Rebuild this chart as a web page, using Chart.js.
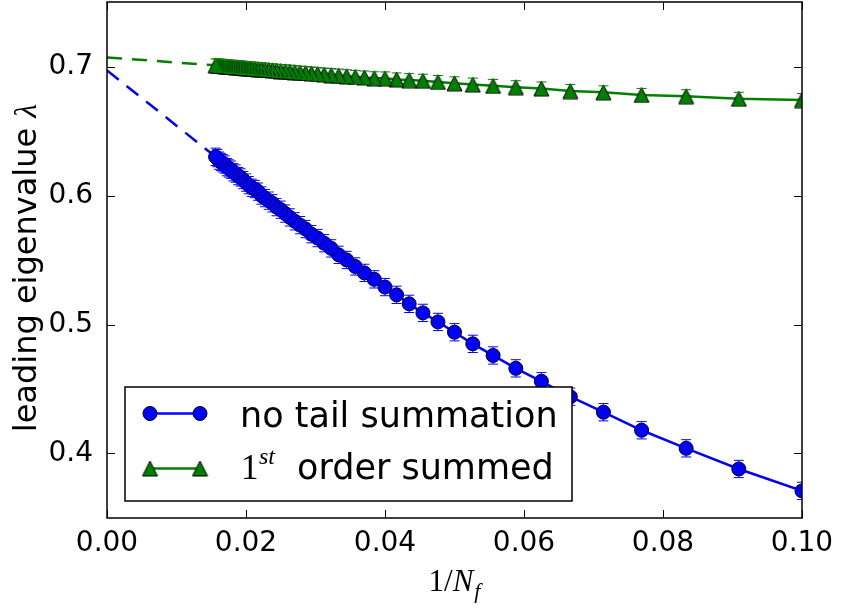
<!DOCTYPE html>
<html>
<head>
<meta charset="utf-8">
<script src="https://cdn.jsdelivr.net/npm/chart.js@4.4.1/dist/chart.umd.min.js"></script>
<style>
  html, body { margin: 0; padding: 0; background: #fff; }
  canvas { display: block; }
</style>
</head>
<body>
<canvas id="eig" width="842" height="608"></canvas>
<script>
// number of frequencies N_f; plotted against 1/N_f
const nFreq = [10, 11, 12, 13, 14, 15, 16, 17, 18, 19, 20, 21, 22, 23, 24, 25, 26, 27, 28, 29,
  30, 31, 32, 33, 34, 35, 36, 37, 38, 39, 40, 41, 42, 43, 44, 45, 46, 47, 48, 49,
  50, 51, 52, 53, 54, 55, 56, 57, 58, 59, 60, 61, 62, 63, 64];

// leading eigenvalue, no tail summation
const noTail = [0.371, 0.388, 0.404, 0.418, 0.432, 0.444, 0.456, 0.466, 0.476, 0.485,
  0.494, 0.502, 0.509, 0.516, 0.523, 0.529, 0.535, 0.540, 0.545, 0.550,
  0.554, 0.559, 0.563, 0.567, 0.570, 0.574, 0.577, 0.580, 0.583, 0.586,
  0.589, 0.591, 0.594, 0.596, 0.598, 0.600, 0.603, 0.605, 0.606, 0.608,
  0.610, 0.612, 0.614, 0.615, 0.617, 0.618, 0.620, 0.621, 0.622, 0.624,
  0.625, 0.626, 0.627, 0.629, 0.630];

// leading eigenvalue, 1st order tail summed
const firstOrder = [0.674, 0.675, 0.677, 0.678, 0.680, 0.681, 0.683, 0.684, 0.685, 0.686,
  0.687, 0.688, 0.689, 0.6895, 0.690, 0.6908, 0.6909, 0.6915, 0.6920, 0.6925,
  0.6930, 0.6934, 0.6938, 0.6942, 0.6946, 0.6950, 0.6953, 0.6956, 0.6960, 0.6963,
  0.6965, 0.6968, 0.6971, 0.6973, 0.6976, 0.6978, 0.6980, 0.6982, 0.6984, 0.6986,
  0.6988, 0.6990, 0.6992, 0.6994, 0.6995, 0.6997, 0.6998, 0.7000, 0.7001, 0.7003,
  0.7004, 0.7005, 0.7007, 0.7008, 0.7009];

const noTailErr = 0.0067;
const firstOrderErr = 0.005;

// linear extrapolations towards 1/N_f -> 0
const fitX = [0, 1 / 64];
const noTailFit = [0.697, 0.630];
const firstOrderFit = [0.707, 0.7009];

const xTicks = [0, 0.02, 0.04, 0.06, 0.08, 0.1];
const yTicks = [0.4, 0.5, 0.6, 0.7];

const BLUE = '#0000ff';
const GREEN = '#008000';
const SANS = '"DejaVu Sans", sans-serif';
const SERIF = '"Liberation Serif", "DejaVu Serif", serif';

const pts = (ys) => ys.map((v, i) => ({ x: 1 / nFreq[i], y: v }));
const fitPts = (ys) => ys.map((v, i) => ({ x: fitX[i], y: v }));

// matplotlib-style '^' marker, centred on its bounding box
function makeTriangle(size) {
  const c = document.createElement('canvas');
  c.width = size + 2;
  c.height = size + 2;
  const g = c.getContext('2d');
  g.beginPath();
  g.moveTo(c.width / 2, 1);
  g.lineTo(size + 1, size + 1);
  g.lineTo(1, size + 1);
  g.closePath();
  g.fillStyle = GREEN;
  g.fill();
  g.lineWidth = 1;
  g.strokeStyle = '#000';
  g.stroke();
  return c;
}
const tri = makeTriangle(15);

function errorBars(ctx, xs, ys, ys_, err, color) {
  ctx.strokeStyle = color;
  ctx.lineWidth = 1;
  ys_.forEach((v, i) => {
    const px = xs.getPixelForValue(1 / nFreq[i]);
    const hi = ys.getPixelForValue(v + err);
    const lo = ys.getPixelForValue(v - err);
    ctx.beginPath();
    ctx.moveTo(px, hi); ctx.lineTo(px, lo);
    ctx.moveTo(px - 5, hi); ctx.lineTo(px + 5, hi);
    ctx.moveTo(px - 5, lo); ctx.lineTo(px + 5, lo);
    ctx.stroke();
  });
}

function circle(ctx, x, y) {
  ctx.beginPath();
  ctx.arc(x, y, 7, 0, Math.PI * 2);
  ctx.fillStyle = BLUE;
  ctx.fill();
  ctx.lineWidth = 1;
  ctx.strokeStyle = '#000';
  ctx.stroke();
}

// keep the plot box exactly where the axes say, without label overhang padding
function fixY(s) {
  s.width = 107;
  s.paddingTop = 0;
  s.paddingBottom = 0;
}
function fixX(s) {
  s.height = 90;
  s.paddingLeft = 0;
  s.paddingRight = 0;
}

const decorations = {
  id: 'decorations',
  afterDatasetsDraw(chart) {
    const { ctx, chartArea: a, scales: { x, y } } = chart;
    ctx.save();
    ctx.beginPath();
    ctx.rect(a.left, a.top, a.right - a.left, a.bottom - a.top);
    ctx.clip();
    errorBars(ctx, x, y, noTail, noTailErr, BLUE);
    errorBars(ctx, x, y, firstOrder, firstOrderErr, GREEN);
    ctx.restore();
  },
  afterDraw(chart) {
    const { ctx, chartArea: a, scales: { x, y } } = chart;
    ctx.save();

    // inward ticks on all four sides
    ctx.strokeStyle = '#000';
    ctx.lineWidth = 1;
    ctx.beginPath();
    xTicks.forEach(t => {
      const px = Math.round(x.getPixelForValue(t)) + 0.5;
      ctx.moveTo(px, a.bottom); ctx.lineTo(px, a.bottom - 8);
      ctx.moveTo(px, a.top); ctx.lineTo(px, a.top + 8);
    });
    yTicks.forEach(t => {
      const py = Math.round(y.getPixelForValue(t)) + 0.5;
      ctx.moveTo(a.left, py); ctx.lineTo(a.left + 8, py);
      ctx.moveTo(a.right, py); ctx.lineTo(a.right - 8, py);
    });
    ctx.stroke();

    // axes frame
    ctx.lineWidth = 1.5;
    ctx.strokeRect(a.left, a.top, a.right - a.left, a.bottom - a.top);

    // x title: 1/N_f
    ctx.fillStyle = '#000';
    ctx.textBaseline = 'alphabetic';
    ctx.textAlign = 'left';
    const up = '31px ' + SERIF, it = 'italic 31px ' + SERIF, sub = 'italic 22px ' + SERIF;
    ctx.font = up; const w1 = ctx.measureText('1/').width;
    ctx.font = it; const w2 = ctx.measureText('N').width;
    ctx.font = sub; const w3 = ctx.measureText('f').width;
    let tx = (a.left + a.right) / 2 - (w1 + w2 + w3 + 1) / 2;
    const ty = 591;
    ctx.font = up; ctx.fillText('1/', tx, ty); tx += w1;
    ctx.font = it; ctx.fillText('N', tx, ty); tx += w2 + 1;
    ctx.font = sub; ctx.fillText('f', tx, ty + 7);

    // y title
    ctx.save();
    ctx.translate(36, 268);
    ctx.rotate(-Math.PI / 2);
    const lab = 'leading eigenvalue ';
    ctx.font = '32px ' + SANS; const wl = ctx.measureText(lab).width;
    ctx.font = 'italic 32px ' + SERIF; const wg = ctx.measureText('λ').width;
    ctx.font = '32px ' + SANS;
    ctx.fillText(lab, -(wl + wg) / 2, 0);
    ctx.font = 'italic 32px ' + SERIF;
    ctx.fillText('λ', -(wl + wg) / 2 + wl, 0);
    ctx.restore();

    // legend
    const L = { x: 125, y: 387, w: 447, h: 114 };
    ctx.fillStyle = '#fff';
    ctx.fillRect(L.x, L.y, L.w, L.h);
    ctx.lineWidth = 1.5;
    ctx.strokeStyle = '#000';
    ctx.strokeRect(L.x, L.y, L.w, L.h);

    const r1 = L.y + 26.5, r2 = L.y + 81.5;
    const m0 = L.x + 25, m1 = L.x + 75;
    ctx.lineWidth = 2.5;
    ctx.strokeStyle = BLUE;
    ctx.beginPath(); ctx.moveTo(m0, r1); ctx.lineTo(m1, r1); ctx.stroke();
    circle(ctx, m0, r1);
    circle(ctx, m1, r1);
    ctx.strokeStyle = GREEN;
    ctx.lineWidth = 2.5;
    ctx.beginPath(); ctx.moveTo(m0, r2); ctx.lineTo(m1, r2); ctx.stroke();
    ctx.drawImage(tri, m0 - tri.width / 2, r2 - tri.height / 2);
    ctx.drawImage(tri, m1 - tri.width / 2, r2 - tri.height / 2);

    ctx.fillStyle = '#000';
    ctx.font = '35px ' + SANS;
    ctx.fillText('no tail summation', L.x + 115, L.y + 40);
    const lb = L.y + 92;
    ctx.font = '35px ' + SERIF;
    ctx.fillText('1', L.x + 116, lb);
    ctx.font = 'italic 24px ' + SERIF;
    ctx.fillText('st', L.x + 134, lb - 15);
    ctx.font = '35px ' + SANS;
    ctx.fillText('order summed', L.x + 172, lb);

    ctx.restore();
  }
};

new Chart(document.getElementById('eig'), {
  type: 'line',
  data: {
    datasets: [
      {
        label: '1st order summed',
        data: pts(firstOrder),
        borderColor: GREEN,
        borderWidth: 2.5,
        pointStyle: tri,
        pointRadius: 8,
        tension: 0
      },
      {
        label: 'no tail summation',
        data: pts(noTail),
        borderColor: BLUE,
        borderWidth: 2.5,
        pointStyle: 'circle',
        pointRadius: 7,
        pointBackgroundColor: BLUE,
        pointBorderColor: '#000',
        pointBorderWidth: 1,
        tension: 0
      },
      {
        label: 'fit, 1st order',
        data: fitPts(firstOrderFit),
        borderColor: GREEN,
        borderWidth: 2.5,
        borderDash: [15, 10],
        pointRadius: 0
      },
      {
        label: 'fit, no tail',
        data: fitPts(noTailFit),
        borderColor: BLUE,
        borderWidth: 2.5,
        borderDash: [15, 10],
        pointRadius: 0
      }
    ]
  },
  options: {
    responsive: false,
    animation: false,
    devicePixelRatio: 1,
    layout: { autoPadding: false, padding: { left: 0, right: 40, top: 2, bottom: 0 } },
    plugins: { legend: { display: false }, tooltip: { enabled: false } },
    scales: {
      x: {
        type: 'linear',
        min: 0,
        max: 0.1,
        grid: { display: false },
        border: { display: false },
        afterBuildTicks: s => { s.ticks = xTicks.map(v => ({ value: v })); },
        afterFit: fixX,
        ticks: {
          color: '#000',
          padding: 1,
          maxRotation: 0,
          font: { family: SANS, size: 28 },
          callback: v => v.toFixed(2)
        }
      },
      y: {
        type: 'linear',
        min: 0.35,
        max: 0.75,
        grid: { display: false },
        border: { display: false },
        afterBuildTicks: s => { s.ticks = yTicks.map(v => ({ value: v })); },
        afterFit: fixY,
        ticks: {
          color: '#000',
          padding: 6,
          font: { family: SANS, size: 28 },
          callback: v => v.toFixed(1)
        }
      }
    }
  },
  plugins: [decorations]
});
</script>
</body>
</html>
